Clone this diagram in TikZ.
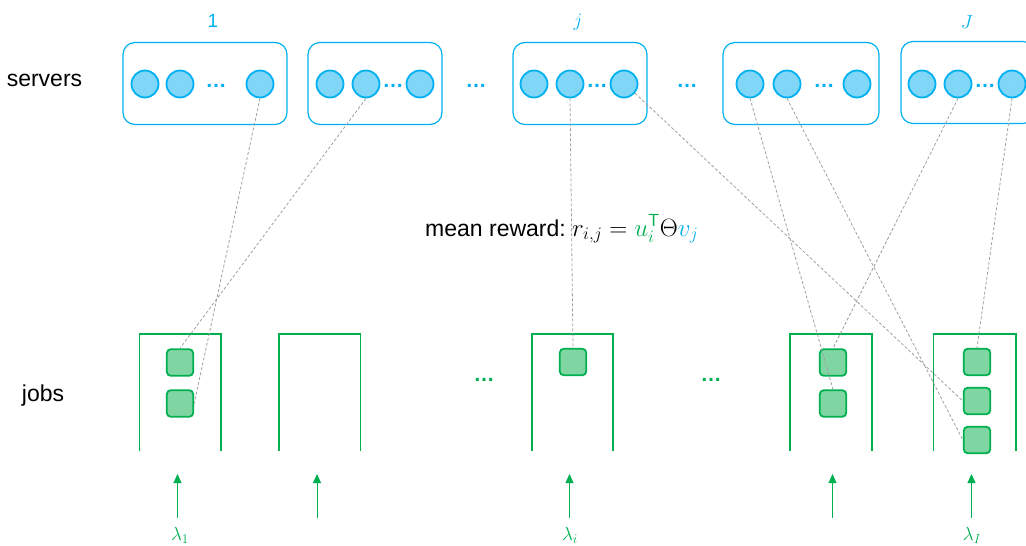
\RequirePackage{fix-cm}
\documentclass[tikz,border=0pt]{standalone}
\usepackage{fontspec}
\setmainfont{Liberation Sans}
\usetikzlibrary{arrows.meta}
\definecolor{sblue}{HTML}{00B0F0}
\definecolor{sfill}{HTML}{7FD6F7}
\definecolor{jgreen}{HTML}{00B050}
\definecolor{jfill}{HTML}{80D6A2}
\definecolor{lgray}{HTML}{A0A0A0}
\begin{document}
\begin{tikzpicture}[x=1pt,y=-1pt,
  srvbox/.style={draw=sblue,line width=1.2pt,rounded corners=12pt,minimum height=82pt,inner sep=0pt},
  srv/.style={circle,draw=sblue,fill=sfill,line width=1.8pt,minimum size=27pt,inner sep=0pt},
  job/.style={draw=jgreen,fill=jfill,line width=1.8pt,rounded corners=4pt,minimum size=26.5pt,inner sep=0pt},
  queue/.style={draw=jgreen,line width=1.2pt},
  link/.style={draw=lgray,line width=0.8pt,dash pattern=on 3pt off 2pt},
  arr/.style={draw=jgreen,line width=0.9pt,-{Triangle[length=9pt,width=8pt]}},
  bdots/.style={text=sblue,font=\fontsize{21}{21}\selectfont\bfseries,inner sep=0pt,anchor=base},
  gdots/.style={text=jgreen,font=\fontsize{21}{21}\selectfont\bfseries,inner sep=0pt,anchor=base},
  lbl/.style={font=\fontsize{23}{23}\selectfont,inner sep=0pt,anchor=base},
  idx/.style={text=sblue,font=\fontsize{19}{19}\selectfont,inner sep=0pt},
  lam/.style={text=jgreen,font=\fontsize{19}{19}\selectfont,inner sep=0pt}]
\useasboundingbox (0,0) rectangle (1026,546);
% row labels
\node[lbl] (servers) at (44.5,86.5) {servers};
\node[lbl] (jobs) at (43,401) {jobs};
% server groups
\node[srvbox,minimum width=164pt] (B1) at (205,83.5) {};
\node[srvbox,minimum width=134pt] (B2) at (375,83.5) {};
\node[srvbox,minimum width=134pt] (Bj) at (580,83.5) {};
\node[srvbox,minimum width=156pt] (B4) at (801,83.5) {};
\node[srvbox,minimum width=134pt] (B5) at (968,82.5) {};
\node[idx] (l1) at (213,21) {1};
\node[idx] (lj) at (578,22) {$j$};
\node[idx] (lJ) at (967,22) {$J$};
\node[srv] (a1) at (145,84) {};
\node[srv] (a2) at (180,84) {};
\node[srv] (a3) at (260,84) {};
\node[bdots] (ad) at (216,87.5) {\char"2026};
\node[srv] (b1) at (330,84) {};
\node[srv] (b2) at (366,84) {};
\node[srv] (b3) at (420,84) {};
\node[bdots] (bd) at (393,87.5) {\char"2026};
\node[bdots] (gap1) at (476,87.5) {\char"2026};
\node[srv] (c1) at (534,84) {};
\node[srv] (c2) at (570,84) {};
\node[srv] (c3) at (624,84) {};
\node[bdots] (cd) at (597,87.5) {\char"2026};
\node[bdots] (gap2) at (687,87.5) {\char"2026};
\node[srv] (d1) at (750,84) {};
\node[srv] (d2) at (787,84) {};
\node[srv] (d3) at (857,84) {};
\node[bdots] (dd) at (824,87.5) {\char"2026};
\node[srv] (e1) at (922,84) {};
\node[srv] (e2) at (958,84) {};
\node[srv] (e3) at (1012,84) {};
\node[bdots] (ed) at (985,87.5) {\char"2026};
% queues
\draw[queue] (139.5,451) -- (139.5,334) -- (221,334) -- (221,451);
\draw[queue] (279,451) -- (279,334) -- (360.5,334) -- (360.5,451);
\draw[queue] (532,451) -- (532,334) -- (613,334) -- (613,451);
\draw[queue] (790,451) -- (790,334) -- (872,334) -- (872,451);
\draw[queue] (933.5,451) -- (933.5,334) -- (1016,334) -- (1016,451);
\node[gdots] (gap3) at (484,381.5) {\char"2026};
\node[gdots] (gap4) at (711,381.5) {\char"2026};
\node[job] (p1) at (180,362.5) {};
\node[job] (p2) at (180,403.5) {};
\node[job] (q1) at (573,362) {};
\node[job] (s1) at (833,362.5) {};
\node[job] (s2) at (833,403.5) {};
\node[job] (t1) at (977,362) {};
\node[job] (t2) at (977,401) {};
\node[job] (t3) at (977,440) {};
% arrivals
\coordinate (f1) at (177.5,518); \coordinate (h1) at (177.5,474);
\coordinate (f2) at (317,518);   \coordinate (h2) at (317,474);
\coordinate (f3) at (569.5,518); \coordinate (h3) at (569.5,474);
\coordinate (f4) at (832.5,518); \coordinate (h4) at (832.5,474);
\coordinate (f5) at (971.5,518); \coordinate (h5) at (971.5,474);
\foreach \k in {1,...,5} \draw[arr] (f\k) -- (h\k);
\node[lam] (lam1) at (180,535) {$\lambda_1$};
\node[lam] (lami) at (570,535) {$\lambda_i$};
\node[lam] (lamI) at (972,535) {$\lambda_I$};
% assignments
\draw[link] (a3.south) -- (p2.east);
\draw[link] (b2.south) -- (p1.north);
\draw[link] (c2.south) -- (q1.north);
\draw[link] (c3.-40) -- (t2.west);
\draw[link] (d1.south) -- (s2.north);
\draw[link] (d2.south) -- (t3.west);
\draw[link] (e2.south) -- (s1.north);
\draw[link] (e3.south) -- (t1.north);
% reward
\node[lbl,anchor=base west] (mr) at (425,236) {mean reward:\ \fontsize{25}{25}\selectfont$r_{i,j}=\textcolor{jgreen}{u_i^{\mathsf{T}}}\Theta\textcolor{sblue}{v_j}$};
\end{tikzpicture}
\end{document}
